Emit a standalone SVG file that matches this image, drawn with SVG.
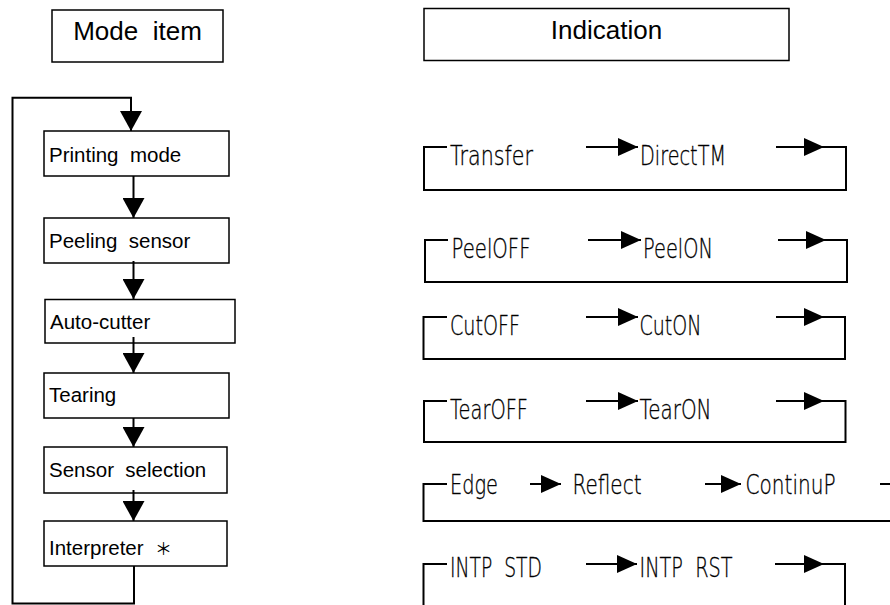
<svg xmlns="http://www.w3.org/2000/svg" width="890" height="605" viewBox="0 0 890 605">
<style>
.box{fill:#fff;stroke:#000;stroke-width:1.5}
.ln{fill:none;stroke:#000;stroke-width:2}
.t{font-family:"Liberation Sans",Arial,sans-serif;font-size:20.5px;fill:#000;white-space:pre}
.h{font-family:"Liberation Sans",Arial,sans-serif;font-size:26px;fill:#000;white-space:pre;text-anchor:middle}
.c{font-family:"DejaVu Sans",sans-serif;font-weight:200;font-stretch:condensed;font-size:26px;fill:#000;stroke:#000;stroke-width:0.35;white-space:pre}
.ast{font-family:"Noto Sans CJK JP",sans-serif;font-size:17px}
</style>
<defs>
<marker id="ahL" viewBox="0 0 20 22" markerUnits="userSpaceOnUse" markerWidth="20" markerHeight="22" refX="20" refY="11" orient="auto"><path d="M0,0 L20,11 L0,22 z" fill="#000"/></marker>
<marker id="ahS" viewBox="0 0 20 18" markerUnits="userSpaceOnUse" markerWidth="20" markerHeight="18" refX="20" refY="9" orient="auto"><path d="M0,0 L20,9 L0,18 z" fill="#000"/></marker>
</defs>

<g id="hdr-mode"><rect class="box" x="52" y="10" width="171" height="52"/><text class="h" x="137.5" y="40">Mode  item</text></g>
<g id="hdr-ind"><rect class="box" x="424" y="8.5" width="365" height="52"/><text class="h" x="606.5" y="39">Indication</text></g>

<g id="n-print"><rect class="box" x="44" y="131" width="185" height="45"/><text class="t" x="49" y="161.7">Printing  mode</text></g>
<g id="n-peel"><rect class="box" x="44" y="218" width="185" height="45"/><text class="t" x="49" y="248.3">Peeling  sensor</text></g>
<g id="n-cut"><rect class="box" x="45" y="299.5" width="190" height="43.5"/><text class="t" x="50" y="329.3">Auto-cutter</text></g>
<g id="n-tear"><rect class="box" x="44" y="373" width="185" height="45"/><text class="t" x="49" y="402">Tearing</text></g>
<g id="n-sens"><rect class="box" x="44" y="447" width="183" height="46"/><text class="t" x="49" y="476.7">Sensor  selection</text></g>
<g id="n-intp"><rect class="box" x="44" y="521" width="183" height="45"/><text class="t" x="49" y="555">Interpreter  <tspan class="ast">＊</tspan></text></g>

<g id="r1-texts">
<text class="c" x="450" y="165" textLength="83" lengthAdjust="spacingAndGlyphs">Transfer</text>
<text class="c" x="640" y="165" textLength="86" lengthAdjust="spacingAndGlyphs">DirectTM</text>
</g>
<g id="r2-texts">
<text class="c" x="451.5" y="258" textLength="79" lengthAdjust="spacingAndGlyphs">PeelOFF</text>
<text class="c" x="643" y="258" textLength="70" lengthAdjust="spacingAndGlyphs">PeelON</text>
</g>
<g id="r3-texts">
<text class="c" x="450" y="335" textLength="70" lengthAdjust="spacingAndGlyphs">CutOFF</text>
<text class="c" x="639.5" y="335" textLength="62" lengthAdjust="spacingAndGlyphs">CutON</text>
</g>
<g id="r4-texts">
<text class="c" x="450" y="419" textLength="78" lengthAdjust="spacingAndGlyphs">TearOFF</text>
<text class="c" x="639.5" y="419" textLength="72" lengthAdjust="spacingAndGlyphs">TearON</text>
</g>
<g id="r5-texts">
<text class="c" x="450" y="494" textLength="48" lengthAdjust="spacingAndGlyphs">Edge</text>
<text class="c" x="572.5" y="494" textLength="69" lengthAdjust="spacingAndGlyphs">Reflect</text>
<text class="c" x="745.5" y="494" textLength="90" lengthAdjust="spacingAndGlyphs">ContinuP</text>
</g>
<g id="r6-texts">
<text class="c" x="450" y="577" textLength="92" lengthAdjust="spacingAndGlyphs">INTP  STD</text>
<text class="c" x="639.5" y="577" textLength="93" lengthAdjust="spacingAndGlyphs">INTP  RST</text>
</g>

<g id="connectors">
<path class="ln" d="M134,566 V603.5 H12.5 V97.7 H131 V131" marker-end="url(#ahL)"/>
<path class="ln" d="M133.5,176 V218" marker-end="url(#ahL)"/>
<path class="ln" d="M133.5,261 V299" marker-end="url(#ahL)"/>
<path class="ln" d="M133.5,337 V373" marker-end="url(#ahL)"/>
<path class="ln" d="M133.5,418 V447" marker-end="url(#ahL)"/>
<path class="ln" d="M133.5,490 V521" marker-end="url(#ahL)"/>

<path class="ln" d="M586,147 H638" marker-end="url(#ahS)"/>
<path class="ln" d="M776,147 H824" marker-end="url(#ahS)"/>
<path class="ln" d="M824,147 H846 V190 H424 V147 H447"/>

<path class="ln" d="M588,240 H641" marker-end="url(#ahS)"/>
<path class="ln" d="M778,240 H826" marker-end="url(#ahS)"/>
<path class="ln" d="M826,240 H847 V282 H425 V240 H448"/>

<path class="ln" d="M586,317 H638" marker-end="url(#ahS)"/>
<path class="ln" d="M776,317 H824" marker-end="url(#ahS)"/>
<path class="ln" d="M824,317 H845 V359 H423.5 V317 H447"/>

<path class="ln" d="M586,401 H638" marker-end="url(#ahS)"/>
<path class="ln" d="M776,401 H824" marker-end="url(#ahS)"/>
<path class="ln" d="M824,401 H845.5 V442 H424 V401 H447"/>

<path class="ln" d="M530,484 H561" marker-end="url(#ahS)"/>
<path class="ln" d="M705,484 H741" marker-end="url(#ahS)"/>
<path class="ln" d="M880,484 H890"/>
<path class="ln" d="M890,521 H423.5 V484 H447"/>

<path class="ln" d="M586,564 H637" marker-end="url(#ahS)"/>
<path class="ln" d="M775,564 H824" marker-end="url(#ahS)"/>
<path class="ln" d="M824,564 H845 V605"/>
<path class="ln" d="M423.5,605 V564 H447"/>
</g>
</svg>
